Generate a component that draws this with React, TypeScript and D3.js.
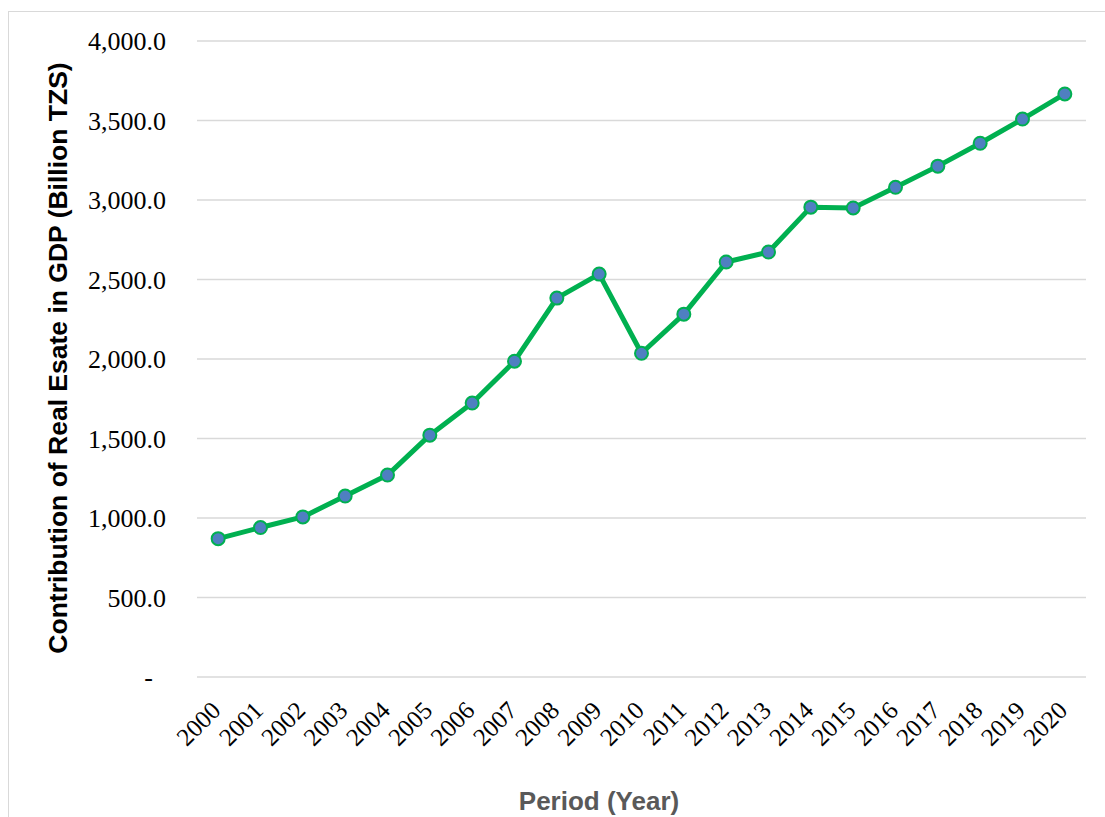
import React from 'react';
import * as d3 from 'd3';

const years = [
  '2000', '2001', '2002', '2003', '2004', '2005', '2006', '2007', '2008', '2009', '2010',
  '2011', '2012', '2013', '2014', '2015', '2016', '2017', '2018', '2019', '2020',
];
const realEstateGdp = [
  870, 940, 1007, 1138, 1270, 1521, 1723, 1986, 2383, 2534, 2036,
  2282, 2610, 2673, 2955, 2950, 3080, 3213, 3357, 3509, 3667,
];
const yTicks = [0, 500, 1000, 1500, 2000, 2500, 3000, 3500, 4000];

const W = 1105;
const H = 817;
const plot = { left: 197, right: 1086, top: 41, bottom: 677 };

const App: React.FC = () => {
  const x = d3.scaleBand<string>()
    .domain(years)
    .range([plot.left, plot.right]);
  const y = d3.scaleLinear()
    .domain([0, 4000])
    .range([plot.bottom, plot.top]);

  const cx = (yr: string) => (x(yr) ?? 0) + x.bandwidth() / 2;
  const fmt = d3.format(',.1f');

  const line = d3.line<number>()
    .x((_, i) => cx(years[i]))
    .y(d => y(d));

  return (
    <div style={{ position: 'absolute', left: 0, top: 0 }}>
      <svg width={W} height={H} style={{ display: 'block', background: '#ffffff' }}>
        {/* chart frame */}
        <rect x={8.5} y={11.5} width={W + 10} height={H + 10} fill="none" stroke="#d9d9d9" strokeWidth={1} />

        {/* gridlines */}
        {yTicks.map(t => (
          <line key={t} x1={plot.left} x2={plot.right} y1={y(t)} y2={y(t)} stroke="#d9d9d9" strokeWidth={1.5} />
        ))}

        {/* y tick labels */}
        {yTicks.map(t => (
          <text
            key={`l${t}`}
            x={t === 0 ? 153 : 166}
            y={y(t)}
            dy="0.35em"
            textAnchor="end"
            fontFamily="'Liberation Serif', 'Times New Roman', serif"
            fontSize={26}
            fill="#000"
          >
            {t === 0 ? '-' : fmt(t)}
          </text>
        ))}

        {/* x tick labels */}
        {years.map(yr => (
          <text
            key={yr}
            transform={`translate(${cx(yr) + 4}, 712) rotate(-45)`}
            textAnchor="end"
            fontFamily="'Liberation Serif', 'Times New Roman', serif"
            fontSize={25}
            fill="#000"
          >
            {yr}
          </text>
        ))}

        {/* series line */}
        <path d={line(realEstateGdp) ?? ''} fill="none" stroke="#00b050" strokeWidth={5} strokeLinejoin="round" />
        {realEstateGdp.map((v, i) => (
          <circle key={i} cx={cx(years[i])} cy={y(v)} r={6.5} fill="#4f7fc1" stroke="#00b050" strokeWidth={2} />
        ))}

        {/* axis titles */}
        <text
          transform="translate(67, 358) rotate(-90)"
          textAnchor="middle"
          fontFamily="'Liberation Sans', Arial, sans-serif"
          fontWeight="bold"
          fontSize={26.5}
          fill="#000"
        >
          Contribution of Real Esate in GDP (Billion TZS)
        </text>
        <text
          x={599}
          y={810}
          textAnchor="middle"
          fontFamily="'Liberation Sans', Arial, sans-serif"
          fontWeight="bold"
          fontSize={26}
          fill="#595959"
        >
          Period (Year)
        </text>
      </svg>
    </div>
  );
};

export default App;
